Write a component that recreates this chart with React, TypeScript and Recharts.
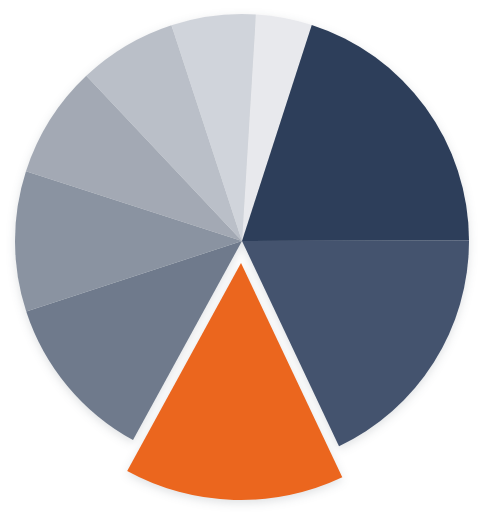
import { Cell, Pie, PieChart } from "recharts";

// slices clockwise, starting just right of 12 o'clock
const categories = ["A", "B", "C", "D", "E", "F", "G", "H", "I"];
const shares = [4, 20, 18, 15, 12, 10, 8, 7, 6];
const colors = [
  "#e8e9ed",
  "#2d3e5a",
  "#44536e",
  "#eb661e",
  "#6f7a8c",
  "#8a93a1",
  "#a3a9b4",
  "#babfc8",
  "#d0d4db",
];
const highlighted = "D";

const data = categories.map((name, i) => ({ name, value: shares[i] }));

const START = 86.5;

export default function App() {
  return (
    <div
      style={{
        position: "absolute",
        left: 0,
        top: 0,
        width: 485,
        height: 518,
        filter: "drop-shadow(0px 3px 5px rgba(30,40,60,0.14))",
      }}
    >
      <PieChart width={485} height={518} margin={{ top: 0, right: 0, bottom: 0, left: 0 }}>
        <Pie
          data={data}
          dataKey="value"
          nameKey="name"
          cx={242}
          cy={241}
          outerRadius={227}
          startAngle={START}
          endAngle={START - 360}
          stroke="none"
          isAnimationActive={false}
        >
          {data.map((d, i) => (
            <Cell key={d.name} fill={d.name === highlighted ? "transparent" : colors[i]} stroke="none" />
          ))}
        </Pie>
        <Pie
          data={data}
          dataKey="value"
          nameKey="name"
          cx={241}
          cy={263}
          outerRadius={237}
          startAngle={START}
          endAngle={START - 360}
          stroke="none"
          isAnimationActive={false}
        >
          {data.map((d, i) => (
            <Cell key={d.name} fill={d.name === highlighted ? colors[i] : "transparent"} stroke="none" />
          ))}
        </Pie>
      </PieChart>
    </div>
  );
}
